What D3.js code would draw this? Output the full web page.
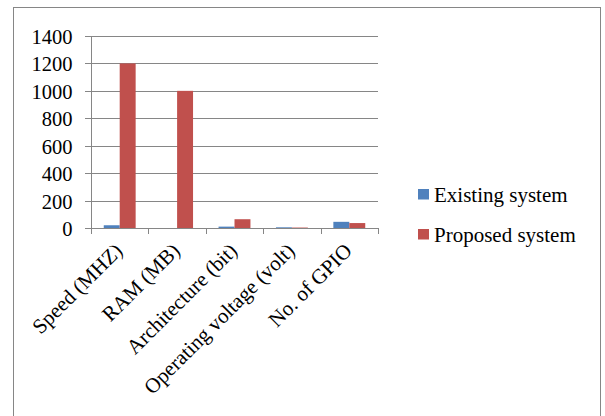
<!DOCTYPE html>
<html>
<head>
<meta charset="utf-8">
<script src="https://cdn.jsdelivr.net/npm/d3@7"></script>
<style>
  body { margin: 0; background: #fff; }
  svg text { font-family: "Liberation Serif", "Times New Roman", serif; }
</style>
</head>
<body>
<div id="chart"></div>
<script>
const categories = ["Speed (MHZ)", "RAM (MB)", "Architecture (bit)", "Operating voltage (volt)", "No. of GPIO"];
const seriesNames = ["Existing system", "Proposed system"];
const existing = [20, 0.002, 10, 5, 45];
const proposed = [1200, 1000, 64, 3.3, 36];
const yTicks = [0, 200, 400, 600, 800, 1000, 1200, 1400];
const colors = ["#4f81bd", "#c0504d"];

const w = 605, h = 416;
const m = { left: 91, right: 227, top: 36, bottom: 188 };

const svg = d3.select("#chart").append("svg")
  .attr("width", w)
  .attr("height", h);

// outer frame
svg.append("rect")
  .attr("x", 13.5).attr("y", 7.5)
  .attr("width", 587).attr("height", 420)
  .attr("fill", "none")
  .attr("stroke", "#868686");

const x = d3.scaleBand()
  .domain(categories)
  .range([m.left, w - m.right])
  .paddingInner(0)
  .paddingOuter(0);

const x1 = d3.scaleBand()
  .domain(seriesNames)
  .range([0, x.bandwidth()])
  .paddingInner(0)
  .paddingOuter(0.8);

const y = d3.scaleLinear()
  .domain([0, 1400])
  .range([h - m.bottom, m.top]);

// gridlines
svg.append("g")
  .selectAll("line")
  .data(yTicks)
  .enter()
  .append("line")
  .attr("x1", m.left - 6)
  .attr("x2", w - m.right)
  .attr("y1", (d) => Math.round(y(d)) + 0.5)
  .attr("y2", (d) => Math.round(y(d)) + 0.5)
  .attr("stroke", "#868686")
  .attr("stroke-width", 1.2);

// y axis line
svg.append("line")
  .attr("x1", m.left + 0.5).attr("x2", m.left + 0.5)
  .attr("y1", y(1400)).attr("y2", y(0) + 6)
  .attr("stroke", "#868686");

// x tick marks at category boundaries
const bounds = categories.map((c) => x(c)).concat([w - m.right]);
svg.append("g")
  .selectAll("line")
  .data(bounds)
  .enter()
  .append("line")
  .attr("x1", (d) => Math.round(d) + 0.5)
  .attr("x2", (d) => Math.round(d) + 0.5)
  .attr("y1", y(0))
  .attr("y2", y(0) + 6)
  .attr("stroke", "#868686");

// y tick labels
svg.append("g")
  .selectAll("text")
  .data(yTicks)
  .enter()
  .append("text")
  .attr("x", m.left - 18.5)
  .attr("y", (d) => y(d) + 8)
  .attr("text-anchor", "end")
  .attr("font-size", 20.5)
  .text((d) => d);

// bars
const series = [existing, proposed];
seriesNames.forEach((name, si) => {
  svg.append("g")
    .selectAll("rect")
    .data(categories)
    .enter()
    .append("rect")
    .attr("x", (d) => x(d) + x1(name))
    .attr("width", x1.bandwidth())
    .attr("y", (d, i) => y(series[si][i]))
    .attr("height", (d, i) => y(0) - y(series[si][i]))
    .attr("fill", colors[si]);
});

// x labels
svg.append("g")
  .selectAll("text")
  .data(categories)
  .enter()
  .append("text")
  .attr("text-anchor", "end")
  .attr("font-size", 21)
  .attr("transform", (d) => `translate(${x(d) + x.bandwidth() / 2 + 4}, ${y(0) + 24}) rotate(-45)`)
  .text((d) => d);

// legend
const legend = svg.append("g")
  .attr("transform", "translate(418, 189)");

const item = legend.selectAll("g")
  .data(seriesNames)
  .enter()
  .append("g")
  .attr("transform", (d, i) => `translate(0, ${i * 40})`);

item.append("rect")
  .attr("width", 11)
  .attr("height", 10.5)
  .attr("fill", (d, i) => colors[i]);

item.append("text")
  .attr("x", 16)
  .attr("y", 12.5)
  .attr("font-size", 21)
  .text((d) => d);
</script>
</body>
</html>
